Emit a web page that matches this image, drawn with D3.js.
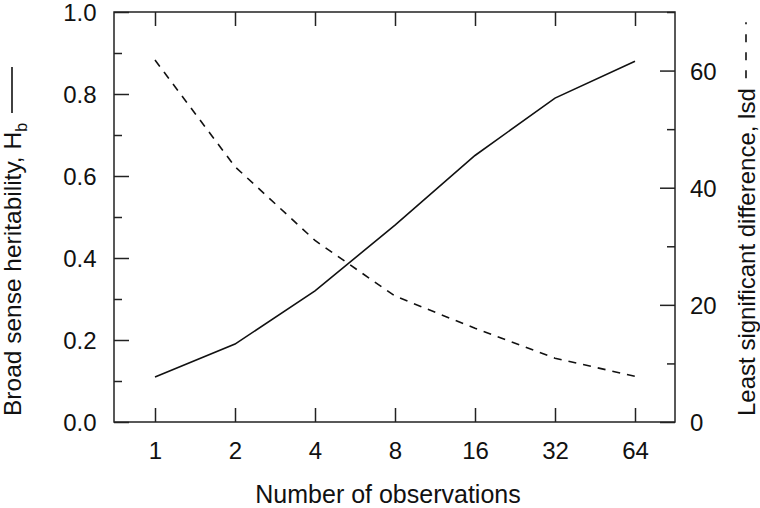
<!DOCTYPE html>
<html lang="en">
<head>
    <meta charset="utf-8">
    <title>Heritability and lsd</title>
    <style>
        body {
            margin: 0;
            background: #fff;
        }
        svg {
            font-family: "Liberation Sans", Arial, sans-serif;
        }
        .axis text {
            font-size: 24px;
            fill: #111;
        }
        .axis line {
            stroke: #222;
            stroke-width: 1.5;
        }
        .axis path {
            display: none;
        }
    </style>
</head>
<body>
<svg id="chart"></svg>
<script src="https://d3js.org/d3.v7.min.js"></script>
<script>
    // number of observations (log2 x axis)
    const observations = [1, 2, 4, 8, 16, 32, 64];
    // broad sense heritability, left axis
    const heritability = [0.11, 0.19, 0.32, 0.48, 0.65, 0.79, 0.88];
    // least significant difference, right axis
    const lsd = [61.8, 43.6, 31.0, 21.5, 16.0, 10.9, 7.8];

    const leftTicks = [0, 0.2, 0.4, 0.6, 0.8, 1.0];
    const leftMinor = [0.1, 0.3, 0.5, 0.7, 0.9];
    const rightTicks = [0, 20, 40, 60];
    const rightMinor = [10, 30, 50, 70];

    const width = 760, height = 508;
    const margin = {top: 12, right: 85, bottom: 86, left: 114};
    const plotW = width - margin.left - margin.right;
    const plotH = height - margin.top - margin.bottom;

    const svg = d3.select("#chart")
        .attr("width", width)
        .attr("height", height);

    const g = svg.append("g")
        .attr("transform", "translate(" + margin.left + "," + margin.top + ")");

    // log2 scale, padded by about half a step at each end
    const xScale = d3.scaleLog()
        .base(2)
        .domain([Math.pow(2, -41 / 80), Math.pow(2, 6.5)])
        .range([0, plotW]);
    const yLeft = d3.scaleLinear().domain([0, 1]).range([plotH, 0]);
    const yRight = d3.scaleLinear().domain([0, 70]).range([plotH, 0]);

    // ticks all point inward
    g.append("g")
        .attr("class", "axis")
        .attr("transform", "translate(0," + plotH + ")")
        .call(d3.axisBottom(xScale).tickValues(observations)
            .tickFormat(d3.format("d")).tickSize(-14).tickPadding(20));
    g.append("g")
        .attr("class", "axis")
        .call(d3.axisTop(xScale).tickValues(observations)
            .tickFormat("").tickSize(-14));

    g.append("g")
        .attr("class", "axis")
        .call(d3.axisLeft(yLeft).tickValues(leftTicks)
            .tickFormat(d3.format(".1f")).tickSize(-15).tickPadding(17.5))
        .selectAll("text")
        .attr("dy", "0.37em");
    g.append("g")
        .attr("class", "axis")
        .call(d3.axisLeft(yLeft).tickValues(leftMinor).tickFormat("").tickSize(-8));

    g.append("g")
        .attr("class", "axis")
        .attr("transform", "translate(" + plotW + ",0)")
        .call(d3.axisRight(yRight).tickValues(rightTicks)
            .tickFormat(d3.format("d")).tickSize(-15).tickPadding(15))
        .selectAll("text")
        .attr("dy", "0.37em");
    g.append("g")
        .attr("class", "axis")
        .attr("transform", "translate(" + plotW + ",0)")
        .call(d3.axisRight(yRight).tickValues(rightMinor).tickFormat("").tickSize(-8));

    g.append("rect")
        .attr("width", plotW)
        .attr("height", plotH)
        .attr("fill", "none")
        .attr("stroke", "#222")
        .attr("stroke-width", 1.5);

    const hLine = d3.line()
        .x(function(d, i) { return xScale(observations[i]); })
        .y(function(d) { return yLeft(d); });
    const lsdLine = d3.line()
        .x(function(d, i) { return xScale(observations[i]); })
        .y(function(d) { return yRight(d); });

    g.append("path")
        .datum(heritability)
        .attr("d", hLine)
        .attr("fill", "none")
        .attr("stroke", "#111")
        .attr("stroke-width", 1.6);

    g.append("path")
        .datum(lsd)
        .attr("d", lsdLine)
        .attr("fill", "none")
        .attr("stroke", "#111")
        .attr("stroke-width", 1.6)
        .attr("stroke-dasharray", "8,7");

    // x title
    svg.append("text")
        .attr("x", 388)
        .attr("y", 503)
        .attr("text-anchor", "middle")
        .style("font-size", "25px")
        .style("fill", "#111")
        .text("Number of observations");

    // left title with solid line key
    const leftLab = svg.append("g")
        .attr("transform", "translate(21,416) rotate(-90)");
    const leftText = leftLab.append("text")
        .style("font-size", "24.5px")
        .style("fill", "#111");
    leftText.append("tspan").text("Broad sense heritability, H");
    leftText.append("tspan").attr("dy", 6).style("font-size", "16px").text("b");
    var len = leftText.node().getComputedTextLength();
    leftLab.append("line")
        .attr("x1", len + 10).attr("x2", len + 56)
        .attr("y1", -9).attr("y2", -9)
        .attr("stroke", "#111")
        .attr("stroke-width", 1.6);

    // right title with dashed line key
    const rightLab = svg.append("g")
        .attr("transform", "translate(755,416) rotate(-90)");
    const rightText = rightLab.append("text")
        .style("font-size", "24px")
        .style("fill", "#111")
        .text("Least significant difference, lsd");
    var len2 = rightText.node().getComputedTextLength();
    rightLab.append("line")
        .attr("x1", len2 + 10).attr("x2", len2 + 66)
        .attr("y1", -9).attr("y2", -9)
        .attr("stroke", "#111")
        .attr("stroke-width", 1.6)
        .attr("stroke-dasharray", "8,10");
</script>
</body>
</html>
